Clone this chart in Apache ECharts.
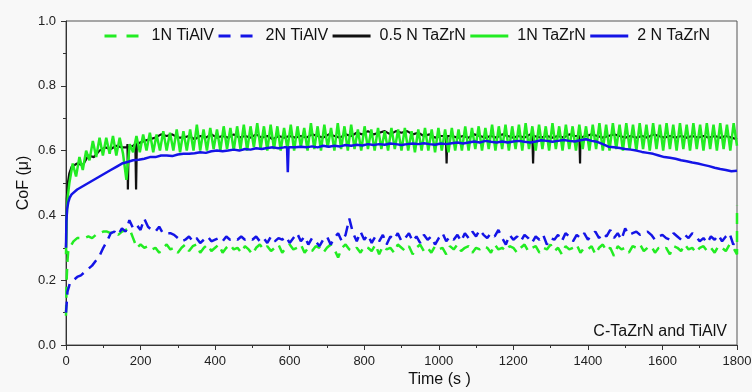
<!DOCTYPE html>
<html>
<head>
<meta charset="utf-8">
<script src="https://cdn.jsdelivr.net/npm/echarts@6/dist/echarts.min.js"></script>
<style>
  html, body { margin: 0; padding: 0; background: #f8f8f8; }
  #chart { width: 752px; height: 392px; }
</style>
</head>
<body>
<div id="chart"></div>
<script>
// Coefficient of friction vs sliding time, C-TaZrN coatings and TiAlV substrate.

const seriesNames = ['1N TiAlV', '2N TiAlV', '0.5 N TaZrN', '1N TaZrN', '2 N TaZrN'];
const xTicks = { min: 0, max: 1800, step: 200 };
const yTicks = { min: 0, max: 1.0, step: 0.2 };

// ---- 1N TiAlV (dashed green): run-in points, then one reading every 10 s from t = 10 s
const tiAlV1RunIn = [[0, 0.09], [1, 0.15], [2, 0.21], [4, 0.26], [6, 0.29]];
const tiAlV1Step = 10;
const tiAlV1 = [
  0.30, 0.32, 0.33, 0.33, 0.33, 0.335, 0.33, 0.34, 0.345, 0.35,
  0.35, 0.345, 0.35, 0.34, 0.35, 0.355, 0.36, 0.33, 0.30, 0.31,
  0.30, 0.305, 0.295, 0.30, 0.285, 0.30, 0.31, 0.295, 0.30, 0.285,
  0.30, 0.31, 0.29, 0.305, 0.31, 0.285, 0.30, 0.31, 0.29, 0.30,
  0.31, 0.285, 0.30, 0.31, 0.295, 0.30, 0.285, 0.305, 0.295, 0.28,
  0.30, 0.31, 0.295, 0.305, 0.29, 0.30, 0.31, 0.285, 0.30, 0.31,
  0.295, 0.30, 0.31, 0.285, 0.30, 0.29, 0.305, 0.30, 0.285, 0.30,
  0.31, 0.295, 0.27, 0.30, 0.31, 0.295, 0.29, 0.30, 0.285, 0.305,
  0.30, 0.29, 0.31, 0.28, 0.305, 0.295, 0.30, 0.285, 0.31, 0.30,
  0.29, 0.305, 0.28, 0.30, 0.31, 0.29, 0.30, 0.285, 0.305, 0.295,
  0.30, 0.28, 0.305, 0.295, 0.31, 0.29, 0.30, 0.305, 0.285, 0.30,
  0.295, 0.305, 0.30, 0.285, 0.31, 0.295, 0.30, 0.29, 0.305, 0.30,
  0.285, 0.30, 0.31, 0.29, 0.30, 0.305, 0.285, 0.30, 0.295, 0.31,
  0.29, 0.30, 0.28, 0.305, 0.295, 0.30, 0.31, 0.285, 0.30, 0.295,
  0.305, 0.28, 0.30, 0.31, 0.29, 0.30, 0.275, 0.305, 0.295, 0.30,
  0.285, 0.305, 0.30, 0.31, 0.29, 0.30, 0.305, 0.285, 0.30, 0.295,
  0.30, 0.28, 0.305, 0.30, 0.29, 0.31, 0.295, 0.30, 0.285, 0.30,
  0.305, 0.29, 0.30, 0.285, 0.305, 0.30, 0.29, 0.31, 0.30, 0.28
];
const tiAlV1End = [[1800, 0.43]];

// ---- 2N TiAlV (dashed blue): run-in points, then every 10 s from t = 10 s
const tiAlV2RunIn = [[0, 0.10], [2, 0.13], [4, 0.165], [8, 0.18]];
const tiAlV2Step = 10;
const tiAlV2 = [
  0.19, 0.20, 0.21, 0.215, 0.225, 0.235, 0.245, 0.26, 0.275, 0.30,
  0.32, 0.345, 0.35, 0.34, 0.36, 0.35, 0.385, 0.36, 0.37, 0.355,
  0.39, 0.365, 0.355, 0.35, 0.365, 0.345, 0.345, 0.345, 0.34, 0.33,
  0.32, 0.325, 0.335, 0.32, 0.33, 0.315, 0.325, 0.335, 0.32, 0.325,
  0.33, 0.32, 0.335, 0.325, 0.33, 0.325, 0.335, 0.325, 0.33, 0.325,
  0.335, 0.32, 0.33, 0.315, 0.335, 0.32, 0.33, 0.325, 0.335, 0.315,
  0.33, 0.345, 0.32, 0.335, 0.31, 0.33, 0.32, 0.305, 0.325, 0.335,
  0.31, 0.33, 0.345, 0.32, 0.34, 0.39, 0.345, 0.32, 0.35, 0.325,
  0.34, 0.315, 0.335, 0.32, 0.34, 0.31, 0.335, 0.325, 0.345, 0.32,
  0.33, 0.345, 0.32, 0.335, 0.315, 0.34, 0.325, 0.335, 0.31, 0.33,
  0.345, 0.32, 0.335, 0.325, 0.34, 0.32, 0.345, 0.33, 0.35, 0.335,
  0.355, 0.34, 0.33, 0.345, 0.335, 0.355, 0.33, 0.31, 0.34, 0.325,
  0.335, 0.32, 0.34, 0.33, 0.315, 0.335, 0.325, 0.34, 0.31, 0.33,
  0.325, 0.34, 0.32, 0.345, 0.335, 0.32, 0.34, 0.33, 0.345, 0.325,
  0.34, 0.35, 0.33, 0.345, 0.335, 0.355, 0.33, 0.345, 0.325, 0.36,
  0.34, 0.345, 0.35, 0.34, 0.345, 0.35, 0.34, 0.325, 0.335, 0.34,
  0.33, 0.325, 0.345, 0.335, 0.325, 0.34, 0.33, 0.345, 0.335, 0.32,
  0.33, 0.315, 0.335, 0.325, 0.34, 0.32, 0.335, 0.345, 0.31, 0.33
];

// ---- 0.5 N TaZrN (black): run-in, every 15 s from t = 15 s, plus short drops
const taZrN05RunIn = [[0, 0.30], [2, 0.45], [5, 0.50], [9, 0.53]];
const taZrN05Step = 15;
const taZrN05 = [
  0.55, 0.56, 0.555, 0.585, 0.58, 0.60, 0.61, 0.605, 0.615, 0.61,
  0.62, 0.615, 0.625, 0.63, 0.635, 0.64, 0.65, 0.645, 0.65, 0.64,
  0.64, 0.645, 0.635, 0.645, 0.64, 0.65, 0.64, 0.645, 0.64, 0.65,
  0.64, 0.645, 0.64, 0.65, 0.64, 0.645, 0.635, 0.645, 0.64, 0.645,
  0.64, 0.645, 0.64, 0.65, 0.645, 0.64, 0.65, 0.645, 0.64, 0.65,
  0.645, 0.655, 0.65, 0.66, 0.65, 0.655, 0.66, 0.65, 0.66, 0.655,
  0.66, 0.65, 0.655, 0.645, 0.65, 0.64, 0.645, 0.64, 0.645, 0.64,
  0.645, 0.64, 0.65, 0.645, 0.64, 0.645, 0.64, 0.65, 0.645, 0.64,
  0.645, 0.64, 0.65, 0.645, 0.64, 0.645, 0.64, 0.645, 0.64, 0.65,
  0.645, 0.64, 0.645, 0.65, 0.645, 0.64, 0.645, 0.65, 0.645, 0.64,
  0.645, 0.64, 0.645, 0.64, 0.65, 0.645, 0.64, 0.645, 0.64, 0.645,
  0.64, 0.645, 0.64, 0.645, 0.64, 0.645, 0.64, 0.645, 0.64, 0.635
];
const taZrN05Drops = [
  [164, 0.61], [166, 0.48], [168, 0.61],
  [186, 0.62], [188, 0.48], [190, 0.62],
  [1019, 0.645], [1021, 0.56], [1023, 0.645],
  [1251, 0.645], [1253, 0.56], [1255, 0.645],
  [1377, 0.645], [1379, 0.56], [1381, 0.645]
];

// ---- 1N TaZrN (green): run-in, then every 9 s from t = 9 s
const taZrN1RunIn = [[0, 0.28], [2, 0.40], [5, 0.46]];
const taZrN1Step = 9;
const taZrN1 = [
  0.50, 0.56, 0.52, 0.58, 0.54, 0.60, 0.57, 0.63, 0.58, 0.64,
  0.585, 0.64, 0.59, 0.645, 0.585, 0.64, 0.59, 0.51, 0.62, 0.595,
  0.645, 0.595, 0.65, 0.60, 0.655, 0.595, 0.65, 0.60, 0.66, 0.60,
  0.655, 0.60, 0.665, 0.595, 0.66, 0.60, 0.665, 0.60, 0.68, 0.60,
  0.665, 0.60, 0.67, 0.605, 0.665, 0.60, 0.675, 0.605, 0.67, 0.60,
  0.675, 0.605, 0.68, 0.60, 0.675, 0.61, 0.685, 0.605, 0.675, 0.60,
  0.68, 0.605, 0.675, 0.60, 0.67, 0.605, 0.68, 0.60, 0.675, 0.61,
  0.67, 0.60, 0.685, 0.605, 0.675, 0.60, 0.68, 0.61, 0.67, 0.60,
  0.685, 0.605, 0.675, 0.60, 0.68, 0.605, 0.665, 0.60, 0.675, 0.605,
  0.665, 0.60, 0.67, 0.605, 0.66, 0.60, 0.67, 0.605, 0.665, 0.60,
  0.67, 0.60, 0.66, 0.595, 0.665, 0.60, 0.67, 0.60, 0.665, 0.595,
  0.67, 0.60, 0.665, 0.595, 0.67, 0.60, 0.665, 0.60, 0.675, 0.60,
  0.67, 0.605, 0.675, 0.60, 0.67, 0.605, 0.68, 0.60, 0.675, 0.605,
  0.68, 0.60, 0.675, 0.605, 0.68, 0.60, 0.685, 0.605, 0.675, 0.60,
  0.68, 0.605, 0.675, 0.60, 0.685, 0.605, 0.675, 0.60, 0.68, 0.605,
  0.675, 0.60, 0.68, 0.605, 0.675, 0.60, 0.68, 0.605, 0.685, 0.60,
  0.68, 0.60, 0.685, 0.605, 0.68, 0.60, 0.685, 0.605, 0.68, 0.60,
  0.685, 0.605, 0.68, 0.60, 0.685, 0.605, 0.68, 0.60, 0.685, 0.605,
  0.68, 0.60, 0.685, 0.605, 0.68, 0.60, 0.685, 0.605, 0.68, 0.60,
  0.685, 0.605, 0.68, 0.60, 0.685, 0.605, 0.68, 0.60, 0.685, 0.615
];

// ---- 2 N TaZrN (blue): run-in, every 15 s from t = 15 s, plus one short drop
const taZrN2RunIn = [[0, 0.30], [1, 0.38], [3, 0.42], [6, 0.44], [10, 0.455]];
const taZrN2Step = 15;
const taZrN2 = [
  0.465, 0.48, 0.49, 0.50, 0.51, 0.52, 0.53, 0.54, 0.55, 0.56,
  0.565, 0.57, 0.572, 0.575, 0.58, 0.58, 0.585, 0.585, 0.583, 0.588,
  0.59, 0.59, 0.592, 0.595, 0.593, 0.598, 0.60, 0.598, 0.60, 0.603,
  0.60, 0.605, 0.603, 0.607, 0.605, 0.608, 0.61, 0.607, 0.61, 0.608,
  0.61, 0.612, 0.61, 0.613, 0.61, 0.615, 0.612, 0.615, 0.613, 0.617,
  0.615, 0.618, 0.616, 0.62, 0.617, 0.62, 0.618, 0.622, 0.62, 0.617,
  0.62, 0.622, 0.62, 0.623, 0.62, 0.618, 0.622, 0.62, 0.623, 0.625,
  0.622, 0.625, 0.628, 0.625, 0.63, 0.627, 0.625, 0.628, 0.625, 0.628,
  0.63, 0.627, 0.625, 0.628, 0.632, 0.63, 0.627, 0.63, 0.633, 0.63,
  0.628, 0.632, 0.635, 0.63, 0.627, 0.62, 0.612, 0.61, 0.608, 0.605,
  0.603, 0.60, 0.596, 0.593, 0.59, 0.585, 0.58, 0.578, 0.575, 0.57,
  0.567, 0.563, 0.56, 0.556, 0.552, 0.547, 0.543, 0.54, 0.536, 0.538
];
const taZrN2Drops = [[593, 0.61], [595, 0.533], [597, 0.61]];

// Build [time, CoF] pairs from a run-in list, a fixed-step list and extra readings.
function toPairs(runIn, step, values, extra) {
  const main = values.map((v, i) => [(i + 1) * step, v]);
  const all = runIn.concat(main, extra || []);
  return all.sort((a, b) => a[0] - b[0]);
}
function toPairsKeepOrder(runIn, step, values, tail) {
  return runIn.concat(values.map((v, i) => [(i + 1) * step, v]), tail || []);
}

const FONT = "'Liberation Sans', Arial, sans-serif";
const GREEN = '#22ec22';
const BLUE = '#1414e6';
const BLACK = '#111111';
const CURVE_DASH = [11, 7];
const KEY_DASH = [12, 10];

const chart = echarts.init(document.getElementById('chart'));

chart.setOption({
  animation: false,
  backgroundColor: '#f8f8f8',
  textStyle: { fontFamily: FONT },
  grid: {
    left: 66, right: 15, top: 21, bottom: 47,
    outerBoundsMode: 'none',
    show: true, borderColor: '#555', borderWidth: 1, backgroundColor: 'transparent'
  },
  legend: {
    left: 98, top: 23,
    itemWidth: 38, itemHeight: 14, itemGap: 3,
    itemStyle: { opacity: 0 },
    lineStyle: { width: 3 },
    textStyle: { fontSize: 16, color: '#111', fontFamily: FONT, padding: [0, 0, 0, 4] },
    data: seriesNames.map((name, i) =>
      i < 2 ? { name, lineStyle: { type: KEY_DASH, width: 3 } } : { name })
  },
  xAxis: {
    type: 'value',
    min: xTicks.min, max: xTicks.max, interval: xTicks.step,
    name: 'Time (s )', nameLocation: 'middle', nameGap: 27, nameMoveOverlap: false,
    nameTextStyle: { fontSize: 16, color: '#111', padding: [0, 0, 0, 76] },
    axisLine: { show: true, lineStyle: { color: '#333', width: 1 } },
    axisTick: { show: true, inside: false, length: 5, lineStyle: { color: '#333' } },
    minorTick: { show: true, splitNumber: 2, length: 3, lineStyle: { color: '#333' } },
    splitLine: { show: false },
    axisLabel: { fontSize: 13, color: '#222', margin: 10, formatter: v => String(v) }
  },
  yAxis: {
    type: 'value',
    min: yTicks.min, max: yTicks.max, interval: yTicks.step,
    name: 'CoF (\u03bc)', nameLocation: 'middle', nameGap: 34, nameRotate: 90, nameMoveOverlap: false,
    nameTextStyle: { fontSize: 16, color: '#111' },
    axisLine: { show: true, lineStyle: { color: '#333', width: 1 } },
    axisTick: { show: true, inside: false, length: 5, lineStyle: { color: '#333' } },
    minorTick: { show: true, splitNumber: 2, length: 3, lineStyle: { color: '#333' } },
    splitLine: { show: false },
    axisLabel: { fontSize: 13, color: '#222', margin: 10, formatter: v => v.toFixed(1) }
  },
  graphic: [{
    type: 'text', right: 25, top: 324,
    style: { text: 'C-TaZrN and TiAlV', font: '16px ' + FONT, fill: '#111' }
  }],
  series: [
    {
      name: seriesNames[0], type: 'line', symbol: 'none', color: GREEN,
      lineStyle: { width: 2.5, type: CURVE_DASH, color: GREEN },
      data: toPairsKeepOrder(tiAlV1RunIn, tiAlV1Step, tiAlV1, tiAlV1End)
    },
    {
      name: seriesNames[1], type: 'line', symbol: 'none', color: BLUE,
      lineStyle: { width: 2.5, type: CURVE_DASH, color: BLUE },
      data: toPairs(tiAlV2RunIn, tiAlV2Step, tiAlV2)
    },
    {
      name: seriesNames[2], type: 'line', symbol: 'none', color: BLACK,
      lineStyle: { width: 2.2, color: BLACK },
      data: toPairs(taZrN05RunIn, taZrN05Step, taZrN05, taZrN05Drops)
    },
    {
      name: seriesNames[3], type: 'line', symbol: 'none', color: GREEN,
      lineStyle: { width: 2.5, color: GREEN },
      data: toPairs(taZrN1RunIn, taZrN1Step, taZrN1)
    },
    {
      name: seriesNames[4], type: 'line', symbol: 'none', color: BLUE,
      lineStyle: { width: 2.5, color: BLUE },
      data: toPairs(taZrN2RunIn, taZrN2Step, taZrN2, taZrN2Drops)
    }
  ]
});
</script>
</body>
</html>
